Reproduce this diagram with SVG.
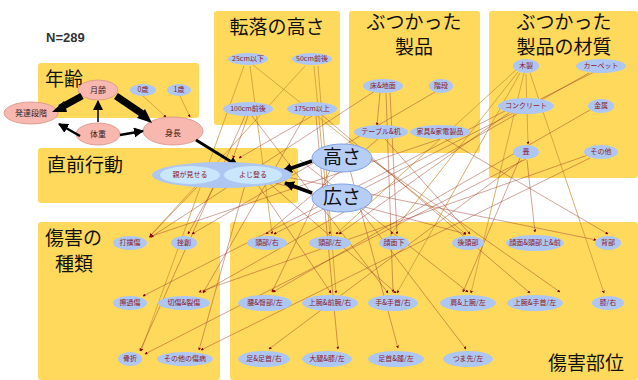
<svg xmlns="http://www.w3.org/2000/svg" width="638" height="380" viewBox="0 0 638 380">
<style>
.box{fill:#FFD95C}
.t{font-family:"Noto Sans CJK JP",sans-serif;fill:#111;font-size:19px}
.pk{fill:#F8B8B0;stroke:#D49488;stroke-width:0.8}
.lv{fill:#AEC6F2}
.lb{font-family:"Noto Sans CJK JP",sans-serif;font-size:7px;fill:#8B1A2A;text-anchor:middle}
.pl{font-family:"Noto Sans CJK JP",sans-serif;font-size:8px;fill:#3A1A1A;text-anchor:middle}
.big{fill:#B6CDF5;stroke:#7FA2E6;stroke-width:1}
.c1{stroke:#A0402D;stroke-opacity:0.6;stroke-width:0.8;fill:none;marker-end:url(#ah)}
.c2{stroke:#C8953A;stroke-opacity:0.75;stroke-width:1;fill:none;marker-end:url(#ah)}
.bk{stroke:#000;fill:none;marker-end:url(#bh)}
</style>
<defs>
<marker id="ah" viewBox="0 0 6 6" refX="5" refY="3" markerWidth="3" markerHeight="3" orient="auto" markerUnits="userSpaceOnUse"><path d="M0,0L6,3L0,6z" fill="#8B0000"/></marker>
<marker id="bh" viewBox="0 0 10 10" refX="9" refY="5" markerWidth="10" markerHeight="10" orient="auto" markerUnits="userSpaceOnUse"><path d="M0,0L10,5L0,10z" fill="#000"/></marker>
</defs>
<rect width="638" height="380" fill="#fff"/>
<g id="boxes">
<rect class="box" x="38" y="63" width="161" height="55" rx="3"/>
<rect class="box" x="214" y="11" width="126" height="114" rx="3"/>
<rect class="box" x="349" y="11" width="131" height="142" rx="3"/>
<rect class="box" x="489" y="11" width="149" height="167" rx="3"/>
<rect class="box" x="38" y="148" width="260" height="55" rx="3"/>
<rect class="box" x="38" y="222" width="182" height="158" rx="3"/>
<rect class="box" x="230" y="222" width="408" height="158" rx="3"/>
</g>
<g id="titles">
<text x="46" y="42" font-family="Liberation Sans,sans-serif" font-size="13" fill="#333" font-weight="bold">N=289</text>
<text class="t" x="45" y="86">年齢</text>
<text class="t" x="277" y="34" text-anchor="middle" font-size="20">転落の高さ</text>
<text class="t" x="414" y="29" text-anchor="middle" font-size="17">ぶつかった</text>
<text class="t" x="414" y="54" text-anchor="middle" font-size="17">製品</text>
<text class="t" x="564" y="29" text-anchor="middle" font-size="17">ぶつかった</text>
<text class="t" x="564" y="54" text-anchor="middle" font-size="17">製品の材質</text>
<text class="t" x="47" y="172">直前行動</text>
<text class="t" x="45" y="245" font-size="18">傷害の</text>
<text class="t" x="55" y="271" font-size="18">種類</text>
<text class="t" x="548" y="370" font-size="20">傷害部位</text>
</g>
<g id="connectors">
<path class="c2" d="M143,96L166,117"/>
<path class="c2" d="M180,96L190,117"/>
<path class="c2" d="M244,66L141,351"/>
<path class="c2" d="M250,66L272,234"/>
<path class="c2" d="M253,65L466,234"/>
<path class="c2" d="M305,66L150,236"/>
<path class="c2" d="M314,66L330,234"/>
<path class="c2" d="M318,66L336,293"/>
<path class="c2" d="M520,73L397,293"/>
<path class="c2" d="M524,73L471,293"/>
<path class="c2" d="M530,73L604,293"/>
<path class="c2" d="M516,70L336,234"/>
<path class="c2" d="M518,72L391,234"/>
<path class="c2" d="M526,74L528,144"/>
<path class="c1" d="M248,116L233,158"/>
<path class="c1" d="M312,116L239,158"/>
<path class="c1" d="M245,116L140,351"/>
<path class="c1" d="M252,116L388,293"/>
<path class="c1" d="M305,116L203,293"/>
<path class="c1" d="M316,116L338,349"/>
<path class="c1" d="M322,115L530,293"/>
<path class="c1" d="M380,93L377,125"/>
<path class="c1" d="M386,93L393,292"/>
<path class="c1" d="M390,93L397,234"/>
<path class="c1" d="M375,91L151,237"/>
<path class="c1" d="M435,92L192,234"/>
<path class="c1" d="M594,72L274,234"/>
<path class="c1" d="M589,73L203,292"/>
<path class="c1" d="M590,110L273,292"/>
<path class="c1" d="M588,155L199,292"/>
<path class="c1" d="M590,158L201,350"/>
<path class="c1" d="M527,160L535,232"/>
<path class="c1" d="M520,158L463,292"/>
<path class="c1" d="M526,159L145,354"/>
<path class="c1" d="M522,160L269,349"/>
<path class="c1" d="M505,111L143,296"/>
<path class="c1" d="M510,112L339,234"/>
<path class="c1" d="M440,139L149,237"/>
<path class="c1" d="M378,139L266,234"/>
<path class="c1" d="M385,139L470,234"/>
<path class="c1" d="M445,139L608,234"/>
<path class="c1" d="M200,184L150,236"/>
<path class="c1" d="M215,185L188,234"/>
<path class="c1" d="M245,185L199,350"/>
<path class="c1" d="M258,185L331,293"/>
<path class="c1" d="M270,184L396,293"/>
<path class="c1" d="M282,176L596,240"/>
<path class="c1" d="M275,183L466,234"/>
<path class="c1" d="M350,170L398,348"/>
<path class="c1" d="M360,210L466,349"/>
<path class="c1" d="M358,150L560,292"/>
<path class="c1" d="M335,160L272,292"/>
<path class="c1" d="M300,160L468,292"/>
</g>
<g id="n-getsurei"><ellipse class="pk" cx="98" cy="90" rx="20" ry="10"/><text class="pl" x="98" y="93">月齢</text></g>
<g id="n-0sai"><ellipse class="lv" cx="143" cy="90" rx="13" ry="6"/><text class="lb" x="143" y="92">0歳</text></g>
<g id="n-1sai"><ellipse class="lv" cx="179" cy="90" rx="12" ry="6"/><text class="lb" x="179" y="92">1歳</text></g>
<g id="n-hattatsu"><ellipse class="pk" cx="31" cy="113" rx="27" ry="11"/><text class="pl" x="31" y="116">発達段階</text></g>
<g id="n-taiju"><ellipse class="pk" cx="98" cy="134" rx="22" ry="11"/><text class="pl" x="98" y="137" font-size="9">体重</text></g>
<g id="n-shincho"><ellipse class="pk" cx="173" cy="131" rx="30" ry="14"/><text class="pl" x="173" y="136" font-size="13" fill="#111">身長</text></g>
<g id="arrows-black">
<path d="M82,96L60,108" stroke="#000" stroke-width="7"/><path d="M64,101L52,112L67,112z" fill="#000"/>
<path d="M116,96L144,115" stroke="#000" stroke-width="7"/><path d="M137,118L152,123L145,109z" fill="#000"/>
<path class="bk" d="M80,136L59,124" stroke-width="2.5"/>
<path class="bk" d="M98,122L98,101" stroke-width="1.5"/>
<path class="bk" d="M120,135L143,131" stroke-width="2.5"/>
<path class="bk" d="M196,140L238,166" stroke-width="3"/>
<path class="bk" d="M312,161L283,171" stroke-width="3.5"/>
<path class="bk" d="M312,193L285,183" stroke-width="3.5"/>
</g>
<g id="n-25"><ellipse class="lv" cx="248" cy="59" rx="20" ry="6"/><text class="lb" x="248" y="61">25cm以下</text></g>
<g id="n-50"><ellipse class="lv" cx="312" cy="59" rx="20" ry="6"/><text class="lb" x="312" y="61">50cm前後</text></g>
<g id="n-100"><ellipse class="lv" cx="248" cy="109" rx="25" ry="7"/><text class="lb" x="248" y="111">100cm前後</text></g>
<g id="n-175"><ellipse class="lv" cx="312" cy="109" rx="25" ry="7"/><text class="lb" x="312" y="111">175cm以上</text></g>
<g id="n-yuka"><ellipse class="lv" cx="383" cy="86" rx="20" ry="7"/><text class="lb" x="383" y="88">床&amp;地面</text></g>
<g id="n-kaidan"><ellipse class="lv" cx="441" cy="86" rx="12" ry="7"/><text class="lb" x="441" y="88">階段</text></g>
<g id="n-table"><ellipse class="lv" cx="381" cy="132" rx="27" ry="7"/><text class="lb" x="381" y="134">テーブル&amp;机</text></g>
<g id="n-kagu"><ellipse class="lv" cx="440" cy="132" rx="30" ry="7"/><text class="lb" x="440" y="134">家具&amp;家電製品</text></g>
<g id="n-mokusei"><ellipse class="lv" cx="526" cy="66" rx="13" ry="7"/><text class="lb" x="526" y="68">木製</text></g>
<g id="n-carpet"><ellipse class="lv" cx="601" cy="66" rx="25" ry="7"/><text class="lb" x="601" y="68">カーペット</text></g>
<g id="n-concrete"><ellipse class="lv" cx="526" cy="106" rx="28" ry="8"/><text class="lb" x="526" y="108">コンクリート</text></g>
<g id="n-kinzoku"><ellipse class="lv" cx="601" cy="106" rx="13" ry="7"/><text class="lb" x="601" y="108">金属</text></g>
<g id="n-tatami"><ellipse class="lv" cx="526" cy="152" rx="13" ry="7"/><text class="lb" x="526" y="154">畳</text></g>
<g id="n-sonota"><ellipse class="lv" cx="601" cy="152" rx="17" ry="7"/><text class="lb" x="601" y="154">その他</text></g>
<g id="n-chokuzen">
<ellipse cx="222" cy="175" rx="70" ry="13" fill="#AEC6F2"/>
<ellipse cx="190" cy="175" rx="30" ry="9" fill="#C8E6FC"/>
<ellipse cx="253" cy="175" rx="29" ry="9" fill="#C8E6FC"/>
<text class="lb" x="190" y="177">親が見せる</text>
<text class="lb" x="253" y="177">よじ登る</text>
</g>
<g id="n-takasa"><ellipse class="big" cx="342" cy="158" rx="30" ry="14"/><text class="t" x="342" y="164" font-size="16" text-anchor="middle">高さ</text></g>
<g id="n-hirosa"><ellipse class="big" cx="342" cy="198" rx="30" ry="14"/><text class="t" x="342" y="204" font-size="16" text-anchor="middle">広さ</text></g>
<g id="n-daboku"><ellipse class="lv" cx="130" cy="243" rx="17" ry="7"/><text class="lb" x="130" y="245">打撲傷</text></g>
<g id="n-zaso"><ellipse class="lv" cx="184" cy="243" rx="13" ry="7"/><text class="lb" x="184" y="245">挫創</text></g>
<g id="n-sakka"><ellipse class="lv" cx="130" cy="303" rx="17" ry="7"/><text class="lb" x="130" y="305">擦過傷</text></g>
<g id="n-sessho"><ellipse class="lv" cx="184" cy="303" rx="26" ry="7"/><text class="lb" x="184" y="305">切傷&amp;裂傷</text></g>
<g id="n-kossetsu"><ellipse class="lv" cx="130" cy="359" rx="12" ry="7"/><text class="lb" x="130" y="361">骨折</text></g>
<g id="n-sonotashobyo"><ellipse class="lv" cx="185" cy="359" rx="28" ry="7"/><text class="lb" x="185" y="361">その他の傷病</text></g>
<g id="n-r1"><ellipse class="lv" cx="267" cy="243" rx="20" ry="7"/><text class="lb" x="267" y="245">頭部/右</text></g>
<g id="n-r2"><ellipse class="lv" cx="330" cy="243" rx="21" ry="7"/><text class="lb" x="330" y="245">頭部/左</text></g>
<g id="n-r3"><ellipse class="lv" cx="394" cy="243" rx="15" ry="7"/><text class="lb" x="394" y="245">顔面下</text></g>
<g id="n-r4"><ellipse class="lv" cx="468" cy="243" rx="16" ry="7"/><text class="lb" x="468" y="245">後頭部</text></g>
<g id="n-r5"><ellipse class="lv" cx="535" cy="243" rx="29" ry="8"/><text class="lb" x="535" y="245">顔面&amp;頭部上&amp;前</text></g>
<g id="n-r6"><ellipse class="lv" cx="608" cy="243" rx="13" ry="7"/><text class="lb" x="608" y="245">背部</text></g>
<g id="n-s1"><ellipse class="lv" cx="265" cy="303" rx="27" ry="8"/><text class="lb" x="265" y="305">腰&amp;臀部/左</text></g>
<g id="n-s2"><ellipse class="lv" cx="330" cy="303" rx="28" ry="8"/><text class="lb" x="330" y="305">上腕&amp;前腕/右</text></g>
<g id="n-s3"><ellipse class="lv" cx="393" cy="303" rx="25" ry="8"/><text class="lb" x="393" y="305">手&amp;手首/右</text></g>
<g id="n-s4"><ellipse class="lv" cx="468" cy="303" rx="28" ry="8"/><text class="lb" x="468" y="305">肩&amp;上腕/左</text></g>
<g id="n-s5"><ellipse class="lv" cx="535" cy="303" rx="28" ry="8"/><text class="lb" x="535" y="305">上腕&amp;手首/左</text></g>
<g id="n-s6"><ellipse class="lv" cx="608" cy="303" rx="16" ry="7"/><text class="lb" x="608" y="305">膝/右</text></g>
<g id="n-u1"><ellipse class="lv" cx="264" cy="359" rx="26" ry="8"/><text class="lb" x="264" y="361">足&amp;足首/右</text></g>
<g id="n-u2"><ellipse class="lv" cx="327" cy="359" rx="25" ry="8"/><text class="lb" x="327" y="361">大腿&amp;膝/左</text></g>
<g id="n-u3"><ellipse class="lv" cx="396" cy="359" rx="28" ry="8"/><text class="lb" x="396" y="361">足首&amp;踵/左</text></g>
<g id="n-u4"><ellipse class="lv" cx="468" cy="359" rx="25" ry="8"/><text class="lb" x="468" y="361">つま先/左</text></g>
</svg>
